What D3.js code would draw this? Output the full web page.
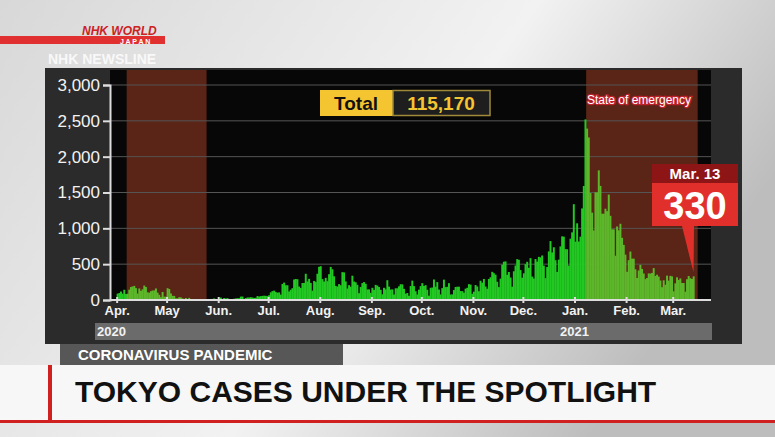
<!DOCTYPE html>
<html><head><meta charset="utf-8">
<script src="https://cdn.jsdelivr.net/npm/d3@7"></script>
<style>body{margin:0;background:#ddd;}svg{display:block;font-family:"Liberation Sans",Arial,sans-serif;}</style>
</head><body><div id="chart"></div>
<script>
// daily new cases in Tokyo, Apr 1 2020 .. Mar 13 2021
var apr = [89,97,118,89,143,83,87,144,181,189,197,166,91,161,127,149,201,181,107,102,123,132,134,161,103,72,39,112,47,46];
var may = [165,154,91,58,57,23,23,39,36,22,15,28,10,30,9,5,5,10,8,5,11,3,2,14,8,10,11,15,22,14,5];
var jun = [13,34,12,28,20,26,14,13,12,18,22,25,24,47,48,16,27,35,35,39,35,29,31,55,48,54,57,60,58,54];
var jul = [67,107,124,131,111,102,106,75,224,243,206,206,119,143,165,286,293,290,188,168,237,238,366,260,295,239,131,266,250,367,463];
var aug = [472,292,258,309,263,360,462,429,331,197,188,222,206,389,385,260,161,207,186,339,258,247,212,95,182,236,250,226,148,148,100];
var sep = [170,141,211,201,181,143,80,170,149,276,187,146,148,77,163,163,191,220,218,156,88,98,59,195,270,194,123,78,144,194];
var oct = [235,196,207,143,60,170,174,286,186,250,146,78,166,284,180,184,235,77,78,139,182,185,186,125,124,102,158,170,221,215,87];
var nov = [116,209,189,122,269,242,294,189,157,293,317,393,374,352,255,180,298,493,534,539,352,391,314,186,401,481,570,561,418,311];
var dec = [372,500,533,449,584,327,299,572,536,602,595,621,480,305,460,678,822,664,736,556,392,563,748,888,884,710,708,481,856,944,1337];
var jan = [814,1070,816,884,1278,1591,2520,2392,2268,1494,1219,970,1502,1502,1809,1592,1204,1204,1274,1240,1471,1175,986,986,618,1026,973,1064,868,769,633];
var feb = [393,556,676,577,577,429,307,412,491,434,370,291,307,371,369,378,445,336,353,327,272,178,275,213,340,270,337,329];
var mar = [121,232,316,279,301,237,237,116,290,335,304,293,330];

var monthLabels = ["Apr.","May","Jun.","Jul.","Aug.","Sep.","Oct.","Nov.","Dec.","Jan.","Feb.","Mar."];
var yTicks = [0,500,1000,1500,2000,2500,3000];
var emergencies = [["2020-04-07","2020-05-25"],["2021-01-08","2021-03-16"]];
var totalCases = "115,170";
var lastLabel = "Mar. 13", lastValue = "330";

var values = [].concat(apr,may,jun,jul,aug,sep,oct,nov,dec,jan,feb,mar);
var start = new Date(2020,3,1);
var data = values.map(function (v, i) {
    return {date: d3.timeDay.offset(start, i), value: v};
});

var W = 775, H = 437;
var svg = d3.select("#chart").append("svg").attr("width", W).attr("height", H);

// studio background
var bg = svg.append("defs").append("linearGradient").attr("id","bg").attr("x1",0).attr("y1",0).attr("x2",1).attr("y2",0.4);
bg.append("stop").attr("offset","0%").attr("stop-color","#d8d8d8");
bg.append("stop").attr("offset","60%").attr("stop-color","#f2f2f2");
bg.append("stop").attr("offset","100%").attr("stop-color","#bdbdbd");
svg.append("rect").attr("width",W).attr("height",H).attr("fill","url(#bg)");

// logo
svg.append("rect").attr("x",0).attr("y",36).attr("width",165).attr("height",8).attr("fill","#e03030");
svg.append("text").attr("x",82).attr("y",35).attr("fill","#c22").attr("font-size",12).attr("font-weight","bold").attr("font-style","italic").text("NHK WORLD");
svg.append("text").attr("x",120).attr("y",44).attr("fill","#fff").attr("font-size",7).attr("font-weight","bold").text("J A P A N");
svg.append("text").attr("x",48).attr("y",64).attr("fill","#fff").attr("font-size",14).attr("font-weight","bold").attr("opacity",0.8).text("NHK NEWSLINE");

// chart panel
svg.append("rect").attr("x",45).attr("y",68).attr("width",697).attr("height",276).attr("fill","#2b2b2b");

var x = d3.scaleTime().domain([new Date(2020,2,28), new Date(2021,2,24)]).range([110, 711]);
var y = d3.scaleLinear().domain([0, 3000]).range([300, 85]);

svg.append("rect").attr("x",110).attr("y",70).attr("width",601).attr("height",230).attr("fill","#070707");

var parse = d3.timeParse("%Y-%m-%d");
svg.selectAll("rect.emer").data(emergencies).enter().append("rect")
    .attr("class","emer")
    .attr("x", function (d) { return x(parse(d[0])); })
    .attr("width", function (d) { return x(parse(d[1])) - x(parse(d[0])); })
    .attr("y",70).attr("height",230).attr("fill","#5a2416");

svg.selectAll("line.grid").data(yTicks.slice(1)).enter().append("line")
    .attr("x1",110).attr("x2",711)
    .attr("y1", function (d) { return y(d); }).attr("y2", function (d) { return y(d); })
    .attr("stroke","#555").attr("stroke-width",1);

var bw = x(new Date(2020,3,2)) - x(start);
function inEmer(d) {
    return emergencies.some(function (e) { return d >= parse(e[0]) && d <= parse(e[1]); });
}
svg.selectAll("rect.bar").data(data).enter().append("rect")
    .attr("class","bar")
    .attr("x", function (d) { return x(d.date); })
    .attr("width", bw + 0.3)
    .attr("y", function (d) { return y(d.value); })
    .attr("height", function (d) { return 300 - y(d.value); })
    .attr("fill", function (d) { return inEmer(d.date) ? "#5cb82a" : "#22c922"; });

// axes
var yAxis = svg.append("g").attr("transform","translate(110,0)")
    .call(d3.axisLeft(y).tickValues(yTicks).tickFormat(d3.format(",")).tickSize(7));
yAxis.select(".domain").attr("stroke","#ddd").attr("stroke-width",2);
yAxis.selectAll("line").attr("stroke","#ddd").attr("stroke-width",2);
yAxis.selectAll("text").attr("fill","#f2f2f2").attr("font-size",17).attr("font-family","Liberation Sans, Arial");

var months = d3.range(12).map(function (i) { return new Date(2020, 3 + i, 1); });
var xAxis = svg.append("g").attr("transform","translate(0,300)")
    .call(d3.axisBottom(x).tickValues(months).tickFormat(function (d, i) { return monthLabels[i]; }).tickSize(5));
xAxis.select(".domain").attr("stroke","#ddd").attr("stroke-width",2).attr("d","M110,0H711");
xAxis.selectAll("line").attr("stroke","#ddd").attr("stroke-width",2).attr("y1",-3).attr("y2",3);
xAxis.selectAll("text").attr("fill","#f2f2f2").attr("font-size",13).attr("font-weight","bold").attr("dy","0.55em");

// year strip
svg.append("rect").attr("x",95).attr("y",323).attr("width",617).attr("height",17).attr("fill","#6b6b6b");
svg.append("text").attr("x",97).attr("y",336).attr("fill","#f2f2f2").attr("font-size",13).attr("font-weight","bold").text("2020");
svg.append("text").attr("x",x(new Date(2021,0,1))).attr("y",336).attr("text-anchor","middle").attr("fill","#f2f2f2").attr("font-size",13).attr("font-weight","bold").text("2021");

// total box
svg.append("rect").attr("x",320).attr("y",90).attr("width",73).attr("height",26).attr("fill","#f5c431");
svg.append("text").attr("x",356).attr("y",110).attr("text-anchor","middle").attr("font-size",19).attr("font-weight","bold").attr("fill","#111").text("Total");
svg.append("rect").attr("x",393).attr("y",90.5).attr("width",97).attr("height",25).attr("fill","#1e1e1e").attr("stroke","#a08a3a").attr("stroke-width",1.5);
svg.append("text").attr("x",441).attr("y",110).attr("text-anchor","middle").attr("font-size",19).attr("font-weight","bold").attr("fill","#f5c431").text(totalCases);

svg.append("text").attr("x",639).attr("y",104).attr("text-anchor","middle").attr("font-size",12).attr("fill","#fff")
    .attr("stroke","#c0202a").attr("stroke-width",2.5).attr("paint-order","stroke").text("State of emergency");

// last value callout
var last = data[data.length - 1];
var px = x(last.date) + bw / 2;
svg.append("path").attr("d","M682,226L" + px + "," + (y(last.value) - 4) + "L694,226Z").attr("fill","#e1302b");
svg.append("rect").attr("x",652).attr("y",164).attr("width",86).attr("height",19).attr("fill","#8e1515");
svg.append("text").attr("x",695).attr("y",179).attr("text-anchor","middle").attr("font-size",15).attr("font-weight","bold").attr("fill","#fff").text(lastLabel);
svg.append("rect").attr("x",652).attr("y",183).attr("width",86).attr("height",43).attr("fill","#e1302b");
svg.append("text").attr("x",695).attr("y",219).attr("text-anchor","middle").attr("font-size",38).attr("font-weight","bold").attr("fill","#fff").text(lastValue);

// lower banner
svg.append("rect").attr("x",0).attr("y",365).attr("width",W).attr("height",55).attr("fill","#f7f7f7");
svg.append("rect").attr("x",48).attr("y",365).attr("width",4).attr("height",55).attr("fill","#d02020");
svg.append("rect").attr("x",0).attr("y",420).attr("width",W).attr("height",3).attr("fill","#d02020");
svg.append("rect").attr("x",60).attr("y",344).attr("width",283).attr("height",21).attr("fill","#575757");
svg.append("text").attr("x",78).attr("y",360).attr("font-size",15).attr("font-weight","bold").attr("fill","#fff").text("CORONAVIRUS PANDEMIC");
svg.append("text").attr("x",75).attr("y",402).attr("font-size",30).attr("font-weight","bold").attr("fill","#111").text("TOKYO CASES UNDER THE SPOTLIGHT");
</script></body></html>
